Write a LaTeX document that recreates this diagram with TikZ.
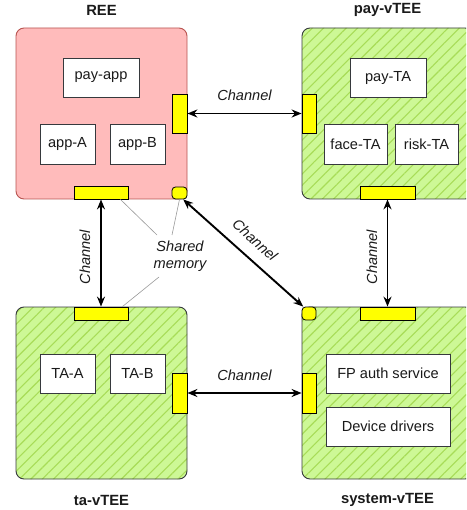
\documentclass[tikz,border=0pt]{standalone}
\usepackage{fontspec}
\setmainfont{Liberation Sans}
\usetikzlibrary{patterns.meta,arrows.meta,calc}
\definecolor{reefill}{HTML}{FFBBBB}
\definecolor{reeborder}{HTML}{B85450}
\definecolor{vfill}{HTML}{CDF896}
\definecolor{vhatch}{HTML}{A8DC58}
\definecolor{vborder}{HTML}{36393D}
\definecolor{portfill}{HTML}{FFFF00}
\definecolor{txt}{HTML}{1A1A1A}
\tikzset{
  base/.style={font=\fontsize{14.6}{17.5}\selectfont, text=txt},
  bigbox/.style={draw, line width=0.9pt, rounded corners=8pt, minimum width=171pt, minimum height=171pt, inner sep=0pt},
  reebox/.style={bigbox, draw=reeborder, fill=reefill},
  vteebox/.style={bigbox, draw=vborder, preaction={fill=vfill}, pattern={Lines[angle=45,distance=8pt,line width=1.1pt]}, pattern color=vhatch},
  inbox/.style={base, draw=vborder, fill=white, line width=0.9pt, inner sep=0pt},
  port/.style={draw=black, fill=portfill, line width=0.8pt, inner sep=0pt},
  cport/.style={port, rounded corners=3.5pt},
  title/.style={base, font=\fontsize{14.8}{17.5}\selectfont\bfseries},
  chlabel/.style={base, font=\fontsize{14.6}{17.5}\selectfont\itshape},
  chan/.style={line width=1.9pt, {Stealth[length=10pt,width=8pt]}-{Stealth[length=10pt,width=8pt]}},
  memline/.style={draw=gray!80, line width=0.6pt},
}
\begin{document}
\begin{tikzpicture}[x=1pt,y=-1pt]
\useasboundingbox (0,0) rectangle (466,510);
\clip (0,0) rectangle (466,510);
% big boxes
\node[reebox] (ree) at (101.5,113.5) {};
\node[vteebox] (pay) at (387.5,113.5) {};
\node[vteebox, minimum height=172pt] (ta) at (101.5,393) {};
\node[vteebox, minimum height=172pt] (sys) at (387.5,393) {};
% titles
\node[title] (reeT) at (101.5,10) {REE};
\node[title] (payT) at (387.5,10) {pay-vTEE};
\node[title] (taTl) at (101.5,500) {ta-vTEE};
\node[title] (sysTl) at (387.5,500) {system-vTEE};
% inner boxes
\node[inbox, minimum width=76pt, minimum height=39pt] (payapp) at (101,77.5) {pay-app};
\node[inbox, minimum width=55pt, minimum height=40pt] (appA) at (67.5,144) {app-A};
\node[inbox, minimum width=55pt, minimum height=40pt] (appB) at (137.5,144) {app-B};
\node[inbox, minimum width=76pt, minimum height=39pt] (payTA) at (388,77.5) {pay-TA};
\node[inbox, minimum width=63pt, minimum height=40pt] (faceTA) at (355.5,144) {face-TA};
\node[inbox, minimum width=63pt, minimum height=40pt] (riskTA) at (426.5,144) {risk-TA};
\node[inbox, minimum width=55pt, minimum height=39pt] (TAA) at (67.5,373.5) {TA-A};
\node[inbox, minimum width=55pt, minimum height=39pt] (TAB) at (137.5,373.5) {TA-B};
\node[inbox, minimum width=124pt, minimum height=39pt] (fp) at (388,373.5) {FP auth service};
\node[inbox, minimum width=124pt, minimum height=39pt] (dd) at (388,426.5) {Device drivers};
% ports
\node[port, minimum width=15pt, minimum height=39pt] (reeR) at (179.5,113.5) {};
\node[port, minimum width=54pt, minimum height=13pt] (reeB) at (101,192.5) {};
\node[cport, minimum width=15pt, minimum height=12pt] (reeC) at (179.5,193) {};
\node[port, minimum width=14pt, minimum height=39pt] (payL) at (309,113.5) {};
\node[port, minimum width=55pt, minimum height=13pt] (payB) at (387.5,192.5) {};
\node[port, minimum width=54pt, minimum height=13pt] (taT) at (101,313.5) {};
\node[port, minimum width=15pt, minimum height=40pt] (taR) at (179.5,393) {};
\node[cport, minimum width=14pt, minimum height=13pt] (sysC) at (309,313.5) {};
\node[port, minimum width=55pt, minimum height=13pt] (sysT) at (387.5,313.5) {};
\node[port, minimum width=14pt, minimum height=40pt] (sysL) at (309,393) {};
% channels
\draw[chan] (reeR.east) -- (payL.west);
\draw[chan] (taR.east) -- (sysL.west);
\draw[chan] (reeB.south) -- (taT.north);
\draw[chan] (payB.south) -- (sysT.north);
\draw[chan] (reeC.-60) -- (sysC.130);
% channel labels
\node[chlabel] (l1) at (244.5,95) {Channel};
\node[chlabel] (l2) at (244.5,375) {Channel};
\node[chlabel, rotate=90] (l3) at (85,257) {Channel};
\node[chlabel, rotate=90] (l4) at (372,257) {Channel};
\node[chlabel, rotate=-42, inner sep=0pt] (l5) at (255,240) {Channel};
% shared memory
\node[chlabel, align=center, inner sep=1pt] (shared) at (180,256) {Shared\\memory};
\coordinate (m1) at (157,235);
\coordinate (m2) at (172,235);
\coordinate (m3) at (159,277);
\draw[memline] (m1) -- ($(reeB.south east)+(-8,0)$);
\draw[memline] (m2) -- ($(reeC.south)+(0,0)$);
\draw[memline] (m3) -- ($(taT.north east)+(-6,0)$);
\end{tikzpicture}
\end{document}
